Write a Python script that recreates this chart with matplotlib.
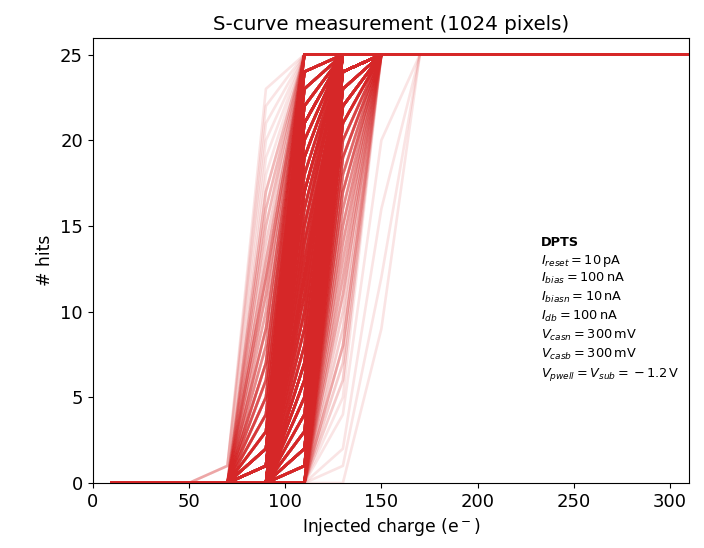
import matplotlib
matplotlib.use("Agg")
import matplotlib.pyplot as plt

plt.rcParams['font.family'] = ['DejaVu Sans']
plt.rcParams['mathtext.fontset'] = 'dejavusans'

# ---------------- data ----------------
charge = [10, 30, 50, 70, 90, 110, 130, 150, 170, 190, 210, 230, 250, 270, 290, 310]
n_injections = 25

# Pixels grouped by the last charge that still gives 0 hits.
# For every distinct shape: hits at the next charge, hits at the one after, and the
# number of pixels with that shape (all later charges give 25 hits).
g50_first = [1, 1, 1, 1]
g50_second = [23, 22, 21, 20]
g50_pixels = [1, 1, 1, 1]

g70_first = [19, 17, 18, 16, 15, 13, 14, 12, 11, 9, 10, 8, 7, 6, 5, 4, 6, 4, 3, 5,
             3, 2, 4, 2, 2, 1, 1, 1, 1, 1]
g70_second = [25, 25, 25, 25, 25, 25, 25, 25, 25, 25, 25, 25, 25, 25, 24, 25, 23, 24, 23, 25,
              24, 22, 23, 24, 23, 21, 23, 22, 24, 20]
g70_pixels = [1, 3, 1, 3, 3, 4, 2, 7, 5, 8, 4, 6, 12, 8, 10, 5, 4, 7, 13, 5,
              16, 31, 6, 8, 9, 29, 10, 10, 10, 12]

g90_first = [20, 19, 21, 18, 17, 16, 15, 13, 14, 12, 11, 14, 9, 13, 10, 8, 12, 7, 7,
             6, 6, 5, 4, 4, 3, 5, 3, 2, 4, 2, 2, 3, 1, 1, 1, 1, 1]
g90_second = [25, 25, 25, 25, 25, 25, 25, 25, 25, 25, 25, 24, 25, 24, 25, 25, 24, 24, 25,
              24, 25, 24, 23, 24, 22, 25, 24, 23, 22, 24, 22, 23, 21, 23, 22, 24, 20]
g90_pixels = [22, 35, 23, 25, 38, 25, 27, 13, 15, 27, 28, 13, 25, 13, 27, 26, 13, 25, 14,
              12, 23, 24, 11, 11, 11, 10, 18, 19, 10, 9, 22, 9, 21, 8, 7, 6, 5]

g110_first = [20, 19, 18, 21, 17, 16, 15, 13, 14, 12, 11, 9, 10, 8, 7, 6, 5, 4, 2, 1]
g110_second = [25, 25, 25, 25, 25, 25, 25, 25, 25, 25, 25, 25, 25, 25, 25, 25, 25, 20, 16, 12]
g110_pixels = [10, 14, 9, 9, 10, 6, 6, 4, 5, 4, 4, 2, 2, 4, 2, 2, 1, 1, 1, 1]

g130_first = [9]
g130_second = [25]
g130_pixels = [1]

groups = [
    (50, g50_first, g50_second, g50_pixels),
    (70, g70_first, g70_second, g70_pixels),
    (90, g90_first, g90_second, g90_pixels),
    (110, g110_first, g110_second, g110_pixels),
    (130, g130_first, g130_second, g130_pixels),
]

# ---------------- figure ----------------
fig = plt.figure(figsize=(7.04, 5.48), dpi=100)
ax = fig.add_axes([0.1317, 0.1186, 0.9791 - 0.1317, 0.9301 - 0.1186])

color = '#d62728'
alpha = 0.12
lw = 1.9

n_total = 0
for last_zero, first, second, pixels in groups:
    for h1, h2, n in zip(first, second, pixels):
        hits = []
        for q in charge:
            if q <= last_zero:
                hits.append(0)
            elif q == last_zero + 20:
                hits.append(h1)
            elif q == last_zero + 40:
                hits.append(h2)
            else:
                hits.append(n_injections)
        for _ in range(n):
            ax.plot(charge, hits, color=color, alpha=alpha, lw=lw)
            n_total += 1

ax.set_xlim(0, 310)
ax.set_ylim(0, 25.95)
ax.set_xlabel('Injected charge (e$^-$)', fontsize=12.3)
ax.set_ylabel('# hits', fontsize=12.3)
ax.set_title('S-curve measurement (%d pixels)' % n_total, fontsize=14.3)
ax.tick_params(labelsize=13)

ann_x = 0.7514
fs = 9.3
ax.text(ann_x, 0.533, 'DPTS', transform=ax.transAxes, fontsize=fs,
        fontweight='bold', va='baseline', ha='left')
lines = [
    r'$I_{reset} = 10\,\mathrm{pA}$',
    r'$I_{bias} = 100\,\mathrm{nA}$',
    r'$I_{biasn} = 10\,\mathrm{nA}$',
    r'$I_{db} = 100\,\mathrm{nA}$',
    r'$V_{casn} = 300\,\mathrm{mV}$',
    r'$V_{casb} = 300\,\mathrm{mV}$',
    r'$V_{pwell} = V_{sub} = {}-1.2\,\mathrm{V}$',
]
ys = [0.4925, 0.452, 0.409, 0.3665, 0.324, 0.281, 0.238]
for t, y in zip(lines, ys):
    ax.text(ann_x, y, t, transform=ax.transAxes, fontsize=fs,
            va='baseline', ha='left')

fig.savefig('out.png', dpi=100)
